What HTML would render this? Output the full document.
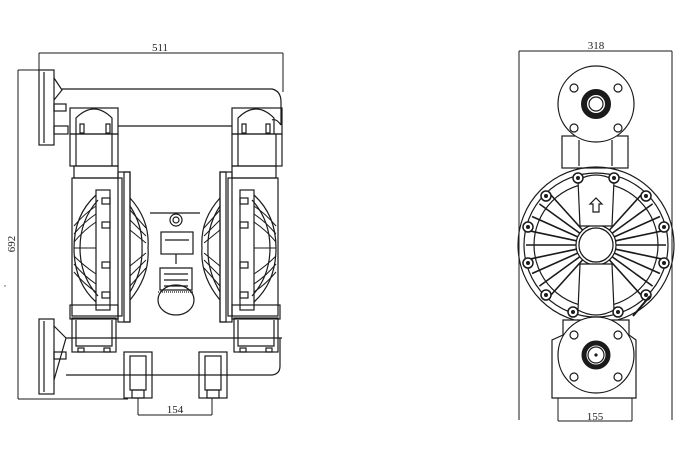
<!DOCTYPE html>
<html><head><meta charset="utf-8"><style>
html,body{margin:0;padding:0;background:#fff;}
svg{display:block}
text{font-family:"Liberation Serif",serif;font-size:11px;fill:#222}
</style></head><body>
<svg width="680" height="462" viewBox="0 0 680 462" xmlns="http://www.w3.org/2000/svg">
<g fill="none" stroke="#1a1a1a" stroke-width="1.2">
<!-- ===== LEFT VIEW dims ===== -->
<line x1="39" y1="53" x2="283" y2="53" stroke-width="1"/>
<line x1="39" y1="53" x2="39" y2="70" stroke-width="1"/>
<line x1="283" y1="53" x2="283" y2="92" stroke-width="1"/>
<line x1="18" y1="70" x2="40" y2="70" stroke-width="1"/>
<line x1="18" y1="70" x2="18" y2="399" stroke-width="1"/>
<line x1="18" y1="399" x2="128" y2="399" stroke-width="1"/>
<line x1="138" y1="398" x2="138" y2="415" stroke-width="1"/>
<line x1="212" y1="398" x2="212" y2="415" stroke-width="1"/>
<line x1="138" y1="415" x2="212" y2="415" stroke-width="1"/>

<!-- flanges -->
<rect x="39" y="70" width="15" height="75"/>
<line x1="44" y1="72" x2="44" y2="143"/>
<path d="M54 78 L62 90 L54 100"/>
<rect x="54" y="104" width="12" height="7"/>
<rect x="54" y="126" width="14" height="8"/>
<rect x="39" y="319" width="15" height="75"/>
<line x1="44" y1="321" x2="44" y2="392"/>
<path d="M54 326 L66 338 L54 380"/>
<rect x="54" y="352" width="12" height="7"/>

<!-- top pipe -->
<path d="M62 89 L272 89 Q281 91 281 102 L281 125"/>
<line x1="118" y1="126" x2="232" y2="126"/>
<path d="M272 120 Q276 118 281 125"/>
<!-- bottom pipe -->
<line x1="66" y1="338" x2="282" y2="338"/>
<path d="M66 375 L272 375 Q280 374 280 366 L280 338"/>

<!-- left manifold -->
<rect x="70" y="108" width="48" height="26"/>
<path d="M76 134 L76 118 Q94 100 112 118 L112 134"/>
<rect x="80" y="124" width="4" height="9"/><rect x="106" y="124" width="4" height="9"/>
<rect x="70" y="134" width="48" height="32"/>
<line x1="76" y1="134" x2="76" y2="166"/><line x1="112" y1="134" x2="112" y2="166"/>
<rect x="74" y="166" width="44" height="12"/>
<!-- right manifold -->
<rect x="232" y="108" width="50" height="26"/>
<path d="M238 134 L238 118 Q256 100 274 118 L274 134"/>
<rect x="242" y="124" width="4" height="9"/><rect x="266" y="124" width="4" height="9"/>
<rect x="232" y="134" width="50" height="32"/>
<line x1="238" y1="134" x2="238" y2="166"/><line x1="276" y1="134" x2="276" y2="166"/>
<rect x="232" y="166" width="44" height="12"/>

<!-- left chamber -->
<rect x="72" y="178" width="50" height="138"/>
<rect x="96" y="190" width="14" height="120"/>
<rect x="118" y="172" width="12" height="150"/>
<rect x="124" y="172" width="6" height="150"/>
<path d="M96 195 Q74 215 74 248 Q74 282 96 302"/>
<path d="M98 200 Q80 220 80 248 Q80 276 98 296"/>
<path d="M130 198 Q150 220 148 248 Q150 276 130 300"/>
<path d="M130 206 Q143 226 142 248 Q143 270 130 292"/>
<g stroke-width="1">
<path d="M74 226 Q84 214 96 206"/><path d="M74 234 Q84 222 96 214"/><path d="M74 242 Q84 230 96 222"/><path d="M74 248 L96 248"/><path d="M74 256 Q84 266 96 274"/><path d="M74 264 Q84 276 96 284"/><path d="M74 272 Q84 284 96 292"/>
<path d="M130 210 L146 228"/><path d="M130 220 L146 236"/><path d="M130 230 L146 243"/><path d="M130 266 L146 253"/><path d="M130 276 L146 260"/><path d="M130 286 L146 268"/>
</g>
<rect x="102" y="198" width="8" height="6"/><rect x="102" y="222" width="8" height="6"/><rect x="102" y="262" width="8" height="6"/><rect x="102" y="292" width="8" height="6"/>
<rect x="70" y="305" width="48" height="14"/>
<rect x="72" y="318" width="44" height="34"/>
<path d="M76 320 L76 346 L112 346 L112 320"/>
<rect x="78" y="348" width="6" height="4"/><rect x="104" y="348" width="6" height="4"/>

<!-- right chamber -->
<rect x="228" y="178" width="50" height="138"/>
<rect x="240" y="190" width="14" height="120"/>
<rect x="220" y="172" width="12" height="150"/>
<rect x="220" y="172" width="6" height="150"/>
<path d="M254 195 Q276 215 276 248 Q276 282 254 302"/>
<path d="M252 200 Q270 220 270 248 Q270 276 252 296"/>
<path d="M220 198 Q200 220 202 248 Q200 276 220 300"/>
<path d="M220 206 Q207 226 208 248 Q207 270 220 292"/>
<g stroke-width="1">
<path d="M276 226 Q266 214 254 206"/><path d="M276 234 Q266 222 254 214"/><path d="M276 242 Q266 230 254 222"/><path d="M276 248 L254 248"/><path d="M276 256 Q266 266 254 274"/><path d="M276 264 Q266 276 254 284"/><path d="M276 272 Q266 284 254 292"/>
<path d="M220 210 L204 228"/><path d="M220 220 L204 236"/><path d="M220 230 L204 243"/><path d="M220 266 L204 253"/><path d="M220 276 L204 260"/><path d="M220 286 L204 268"/>
</g>
<rect x="240" y="198" width="8" height="6"/><rect x="240" y="222" width="8" height="6"/><rect x="240" y="262" width="8" height="6"/><rect x="240" y="292" width="8" height="6"/>
<rect x="232" y="305" width="48" height="14"/>
<rect x="234" y="318" width="44" height="34"/>
<path d="M238 320 L238 346 L274 346 L274 320"/>
<rect x="240" y="348" width="6" height="4"/><rect x="266" y="348" width="6" height="4"/>

<!-- center -->
<line x1="150" y1="213" x2="200" y2="213"/>
<circle cx="176" cy="220" r="6"/><circle cx="176" cy="220" r="3"/>
<rect x="161" y="232" width="32" height="22"/>
<line x1="165" y1="240" x2="189" y2="240"/>
<line x1="176" y1="254" x2="176" y2="264"/>
<path d="M160 268 L192 268 L192 290 L160 290 Z"/>
<line x1="164" y1="274" x2="188" y2="274"/><line x1="164" y1="280" x2="188" y2="280"/><line x1="164" y1="286" x2="188" y2="286"/>
<ellipse cx="176" cy="300" rx="18" ry="15"/>
<line x1="158" y1="292" x2="194" y2="292" stroke-dasharray="1 1"/>

<!-- feet -->
<rect x="124" y="352" width="28" height="46"/>
<rect x="130" y="356" width="16" height="34"/>
<rect x="132" y="390" width="12" height="8"/>
<rect x="199" y="352" width="28" height="46"/>
<rect x="205" y="356" width="16" height="34"/>
<rect x="207" y="390" width="12" height="8"/>

<!-- ===== RIGHT VIEW ===== -->
<line x1="519" y1="51" x2="672" y2="51" stroke-width="1"/>
<line x1="519" y1="51" x2="519" y2="420" stroke-width="1"/>
<line x1="672" y1="51" x2="672" y2="420" stroke-width="1"/>
<line x1="558" y1="421" x2="632" y2="421" stroke-width="1"/>

<!-- top flange -->
<rect x="562" y="136" width="66" height="32"/>
<line x1="579" y1="140" x2="579" y2="166"/><line x1="612" y1="140" x2="612" y2="166"/>
<circle cx="596" cy="104" r="38" fill="#fff"/>
<circle cx="596" cy="104" r="12" stroke-width="6"/>
<circle cx="596" cy="104" r="7"/>
<circle cx="574" cy="88" r="4"/><circle cx="618" cy="88" r="4"/>
<circle cx="574" cy="128" r="4"/><circle cx="618" cy="128" r="4"/>

<!-- main disc -->
<circle cx="596" cy="245" r="78"/>
<circle cx="596" cy="245" r="72"/>
<circle cx="596" cy="245" r="62"/>
<circle cx="596" cy="245" r="17"/>
<circle cx="596" cy="245" r="20"/>
<g stroke-width="1.6">
<line x1="616" y1="245" x2="666" y2="245"/><line x1="576" y1="245" x2="526" y2="245"/>
<g transform="rotate(12 596 245)"><line x1="616" y1="245" x2="666" y2="245"/><line x1="576" y1="245" x2="526" y2="245"/></g>
<g transform="rotate(24 596 245)"><line x1="616" y1="245" x2="666" y2="245"/><line x1="576" y1="245" x2="526" y2="245"/></g>
<g transform="rotate(36 596 245)"><line x1="616" y1="245" x2="666" y2="245"/><line x1="576" y1="245" x2="526" y2="245"/></g>
<g transform="rotate(48 596 245)"><line x1="616" y1="245" x2="666" y2="245"/><line x1="576" y1="245" x2="526" y2="245"/></g>
<g transform="rotate(-12 596 245)"><line x1="616" y1="245" x2="666" y2="245"/><line x1="576" y1="245" x2="526" y2="245"/></g>
<g transform="rotate(-24 596 245)"><line x1="616" y1="245" x2="666" y2="245"/><line x1="576" y1="245" x2="526" y2="245"/></g>
<g transform="rotate(-36 596 245)"><line x1="616" y1="245" x2="666" y2="245"/><line x1="576" y1="245" x2="526" y2="245"/></g>
<g transform="rotate(-48 596 245)"><line x1="616" y1="245" x2="666" y2="245"/><line x1="576" y1="245" x2="526" y2="245"/></g>
</g>
<path d="M578 180 Q596 170 614 180 L612 226 L580 226 Z" fill="#fff"/>
<path d="M578 310 Q596 320 614 310 L612 264 L580 264 Z" fill="#fff"/>
<circle cx="596" cy="245" r="17" fill="#fff"/>
<path d="M593 212 L593 204 L590 204 L596 198 L602 204 L599 204 L599 212 Z"/>
<!-- bolts -->
<g fill="#fff" stroke-width="1.5">
<circle cx="578" cy="178" r="5"/><circle cx="614" cy="178" r="5"/>
<circle cx="546" cy="196" r="5"/><circle cx="646" cy="196" r="5"/>
<circle cx="528" cy="227" r="5"/><circle cx="664" cy="227" r="5"/>
<circle cx="528" cy="263" r="5"/><circle cx="664" cy="263" r="5"/>
<circle cx="546" cy="295" r="5"/><circle cx="646" cy="295" r="5"/>
<circle cx="573" cy="312" r="5"/><circle cx="618" cy="312" r="5"/>
</g>
<g fill="#1a1a1a" stroke="none">
<circle cx="578" cy="178" r="2"/><circle cx="614" cy="178" r="2"/>
<circle cx="546" cy="196" r="2"/><circle cx="646" cy="196" r="2"/>
<circle cx="528" cy="227" r="2"/><circle cx="664" cy="227" r="2"/>
<circle cx="528" cy="263" r="2"/><circle cx="664" cy="263" r="2"/>
<circle cx="546" cy="295" r="2"/><circle cx="646" cy="295" r="2"/>
<circle cx="573" cy="312" r="2"/><circle cx="618" cy="312" r="2"/>
</g>
<line x1="633" y1="316" x2="650" y2="296" stroke-width="2"/>

<!-- bottom flange -->
<path d="M563 320 L629 320 L629 335 L636 340 L636 398 L552 398 L552 340 L563 335 Z" fill="#fff"/>
<line x1="558" y1="398" x2="558" y2="421" stroke-width="1"/><line x1="632" y1="398" x2="632" y2="421" stroke-width="1"/>
<circle cx="596" cy="355" r="38" fill="#fff"/>
<circle cx="596" cy="355" r="12" stroke-width="5"/>
<circle cx="596" cy="355" r="8"/>
<circle cx="596" cy="355" r="1" fill="#222"/>
<circle cx="574" cy="335" r="4"/><circle cx="618" cy="335" r="4"/>
<circle cx="574" cy="377" r="4"/><circle cx="618" cy="377" r="4"/>
</g>

<text x="160" y="51" text-anchor="middle">511</text>
<text x="175" y="413" text-anchor="middle">154</text>
<text x="596" y="49" text-anchor="middle">318</text>
<text x="595" y="420" text-anchor="middle">155</text>
<text x="0" y="0" transform="translate(15 244) rotate(-90)" text-anchor="middle">692</text>
<text x="4" y="286" style="font-size:8px">,</text>
</svg>
</body></html>
